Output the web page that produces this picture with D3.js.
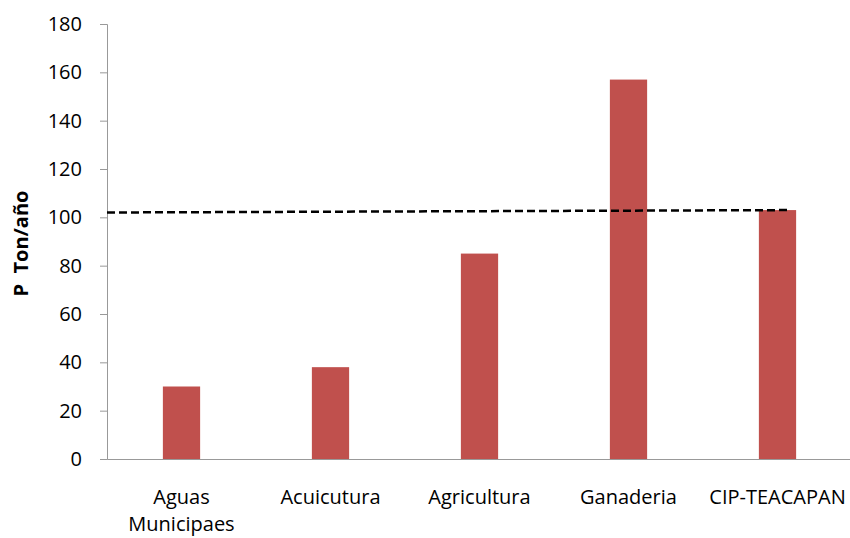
<!DOCTYPE html>
<html>
<head>
<meta charset="utf-8">
<script src="https://cdn.jsdelivr.net/npm/d3@7"></script>
<style>
  body { margin: 0; background: #fff; }
  svg text { font-family: "Open Sans", sans-serif; }
</style>
</head>
<body>
<div id="chart"></div>
<script>
const categories = ["Aguas Municipaes", "Acuicutura", "Agricultura", "Ganaderia", "CIP-TEACAPAN"];
const values = [30, 38, 85, 157, 103];
const yTicks = [0, 20, 40, 60, 80, 100, 120, 140, 160, 180];
// dashed reference line: [position in category units, value]
const refLine = [[-0.5, 102], [4.07, 103]];

const width = 850, height = 538;
const margin = {top: 24, right: -2, bottom: 79, left: 107};

const svg = d3.select("#chart").append("svg").attr("width", width).attr("height", height);

const x = d3.scaleBand().domain(categories).range([margin.left, width - margin.right]).paddingInner(0.75).paddingOuter(0.375);
const y = d3.scaleLinear().domain([0, 180]).range([height - margin.bottom, margin.top]);
const step = x.step();
const xPos = d3.scaleLinear().domain([0, 1]).range([x(categories[0]) + x.bandwidth() / 2, x(categories[0]) + x.bandwidth() / 2 + step]);

// y axis
const yAxis = svg.append("g").attr("transform", `translate(${margin.left},0)`)
  .call(d3.axisLeft(y).tickValues(yTicks).tickSize(7).tickPadding(18));
yAxis.select(".domain").attr("stroke", "#999");
yAxis.selectAll(".tick line").attr("stroke", "#999");
yAxis.selectAll(".tick text").attr("font-size", "20px").attr("fill", "#000");

svg.append("text")
  .attr("transform", `translate(28,243.5) rotate(-90)`)
  .attr("text-anchor", "middle").attr("font-size", "20px").attr("font-weight", "bold")
  .attr("fill", "#000").attr("xml:space", "preserve").text("P  Ton/año");

// bars
svg.selectAll("rect.bar").data(values).enter().append("rect")
  .attr("class", "bar")
  .attr("x", (d, i) => x(categories[i]))
  .attr("y", d => y(d))
  .attr("width", x.bandwidth())
  .attr("height", d => y(0) - y(d))
  .attr("fill", "#C0504D");

// x axis
const xAxis = svg.append("g").attr("transform", `translate(0,${y(0)})`)
  .call(d3.axisBottom(x).tickSize(0).tickSizeOuter(0).tickFormat(""));
xAxis.select(".domain").attr("stroke", "#999");
xAxis.selectAll(".tick").each(function(d) {
  const words = d === "Aguas Municipaes" ? ["Aguas", "Municipaes"] : [d];
  const t = d3.select(this).append("text").attr("fill", "#000").attr("font-size", "20px").attr("text-anchor", "middle");
  words.forEach((w, i) => t.append("tspan").attr("x", 0).attr("y", 45 + i * 27).text(w));
});

// dashed line
svg.append("path")
  .datum(refLine)
  .attr("fill", "none").attr("stroke", "#000").attr("stroke-width", 2.5).attr("stroke-dasharray", "8,4")
  .attr("d", d3.line().x(d => xPos(d[0])).y(d => y(d[1])));
</script>
</body>
</html>
